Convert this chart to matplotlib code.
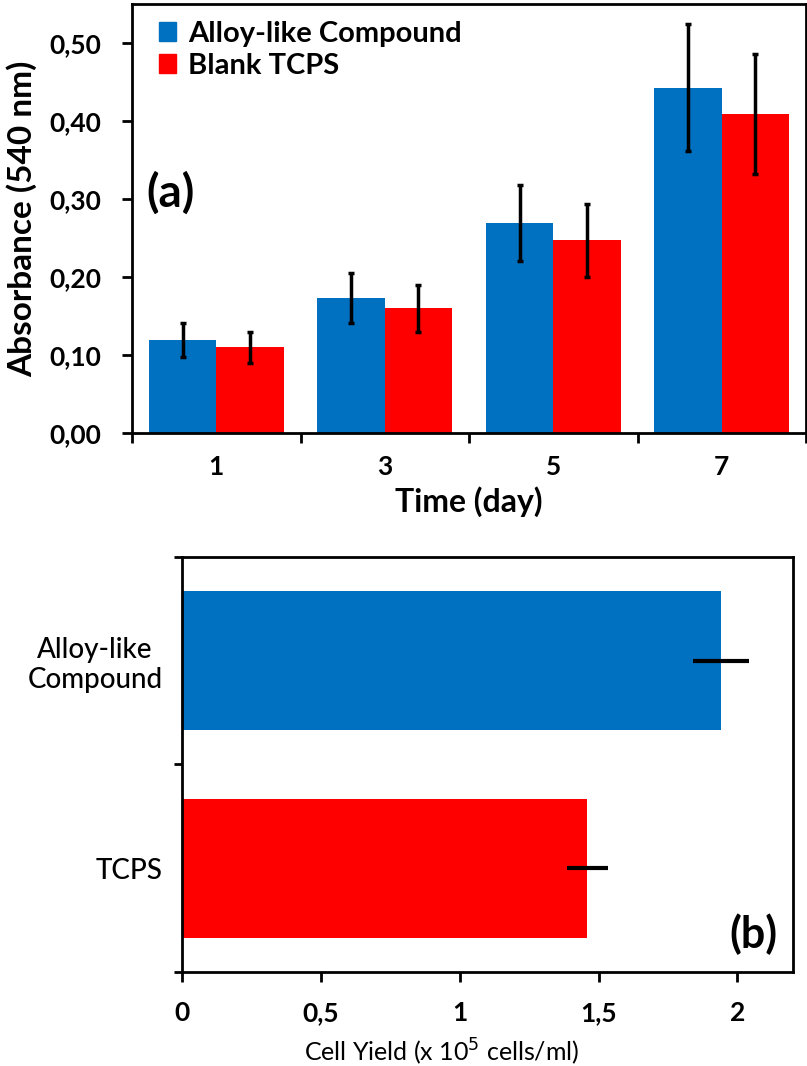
import numpy as np
import matplotlib.pyplot as plt
from matplotlib.patches import Patch

plt.rcParams['font.family'] = ['Lato', 'DejaVu Sans']

# Absorbance data (MTT assay, 540 nm)
days = ['1', '3', '5', '7']
alloy_abs = [0.119, 0.173, 0.269, 0.443]
alloy_abs_err = [0.022, 0.032, 0.049, 0.082]
tcps_abs = [0.110, 0.160, 0.247, 0.409]
tcps_abs_err = [0.020, 0.030, 0.047, 0.077]

# Cell yield data
groups = ['TCPS', 'Alloy-like\nCompound']
yields = [1.46, 1.94]
yields_err = [0.075, 0.10]

blue = '#0070C0'
red = '#FF0000'

fig = plt.figure(figsize=(8.07, 10.66), dpi=100)

# ---- (a) absorbance vs time
ax1 = fig.add_axes([0.1636, 0.5938, 0.8352, 0.4024])
x = np.arange(len(days))
w = 0.4
ax1.bar(x - w / 2, alloy_abs, w, color=blue, label='Alloy-like Compound')
ax1.bar(x + w / 2, tcps_abs, w, color=red, label='Blank TCPS')
ax1.errorbar(x - w / 2, alloy_abs, yerr=alloy_abs_err, fmt='none',
             ecolor='black', elinewidth=2.5, capsize=2.5, capthick=2.5)
ax1.errorbar(x + w / 2, tcps_abs, yerr=tcps_abs_err, fmt='none',
             ecolor='black', elinewidth=2.5, capsize=2.5, capthick=2.5)
ax1.set_xlim(-0.5, len(days) - 0.5)
ax1.set_ylim(0, 0.55)
ax1.set_yticks(np.arange(0, 0.51, 0.1))
ax1.set_yticklabels([f'{v:.2f}'.replace('.', ',') for v in np.arange(0, 0.51, 0.1)])
ax1.set_xticks(x)
ax1.set_xticklabels(days)
ax1.set_xticks(np.arange(-0.5, len(days), 1), minor=True)
ax1.tick_params(axis='x', which='major', length=0, pad=16, labelsize=19)
ax1.tick_params(axis='x', which='minor', length=7, width=2, direction='out')
ax1.tick_params(axis='y', length=7, width=2, direction='out', labelsize=19, pad=15)
for lab in ax1.get_xticklabels() + ax1.get_yticklabels():
    lab.set_fontweight('bold')
ax1.set_xlabel('Time (day)', fontsize=23, fontweight='bold', labelpad=5)
ax1.set_ylabel('Absorbance (540 nm)', fontsize=24, fontweight='bold', labelpad=9)
for s in ax1.spines.values():
    s.set_linewidth(2)
ax1.text(0.022, 0.56, '(a)', transform=ax1.transAxes, fontsize=33,
         fontweight='bold', va='center')
handles = [Patch(color=blue), Patch(color=red)]
leg = ax1.legend(handles, ['Alloy-like Compound', 'Blank TCPS'],
                 loc='upper left', bbox_to_anchor=(0.018, 0.995), frameon=False,
                 handlelength=0.6, handleheight=0.6, handletextpad=0.4,
                 labelspacing=0.2, borderaxespad=0.1,
                 prop={'size': 21, 'weight': 'bold'})

# ---- (b) cell yield
ax2 = fig.add_axes([0.2255, 0.0882, 0.7571, 0.3893])
y = np.arange(len(groups))
ax2.barh(y, yields, height=0.67, color=[red, blue])
ax2.errorbar(yields, y, xerr=yields_err, fmt='none', ecolor='black',
             elinewidth=3, capsize=0)
ax2.set_xlim(0, 2.2)
ax2.set_ylim(-0.5, 1.5)
ax2.set_xticks([0, 0.5, 1, 1.5, 2])
ax2.set_xticklabels(['0', '0,5', '1', '1,5', '2'])
ax2.set_yticks(y)
ax2.set_yticklabels(groups, ha='right', multialignment='center')
ax2.set_yticks([-0.5, 0.5, 1.5], minor=True)
ax2.tick_params(axis='y', which='major', length=0, pad=14, labelsize=20)
ax2.tick_params(axis='y', which='minor', length=6, width=2, direction='out')
ax2.tick_params(axis='x', length=7, width=2, direction='out', labelsize=19, pad=14)
for lab in ax2.get_xticklabels():
    lab.set_fontweight('bold')
for lab in ax2.get_yticklabels():
    lab.set_fontweight('medium')
ax2.set_xlabel('Cell Yield (x 10$^5$ cells/ml)', fontsize=18, labelpad=4)
ax2.xaxis.set_label_coords(0.425, -0.155)
for s in ax2.spines.values():
    s.set_linewidth(2)
ax2.text(0.975, 0.09, '(b)', transform=ax2.transAxes, fontsize=31,
         fontweight='bold', ha='right', va='center')

fig.savefig('out.png', dpi=100)
